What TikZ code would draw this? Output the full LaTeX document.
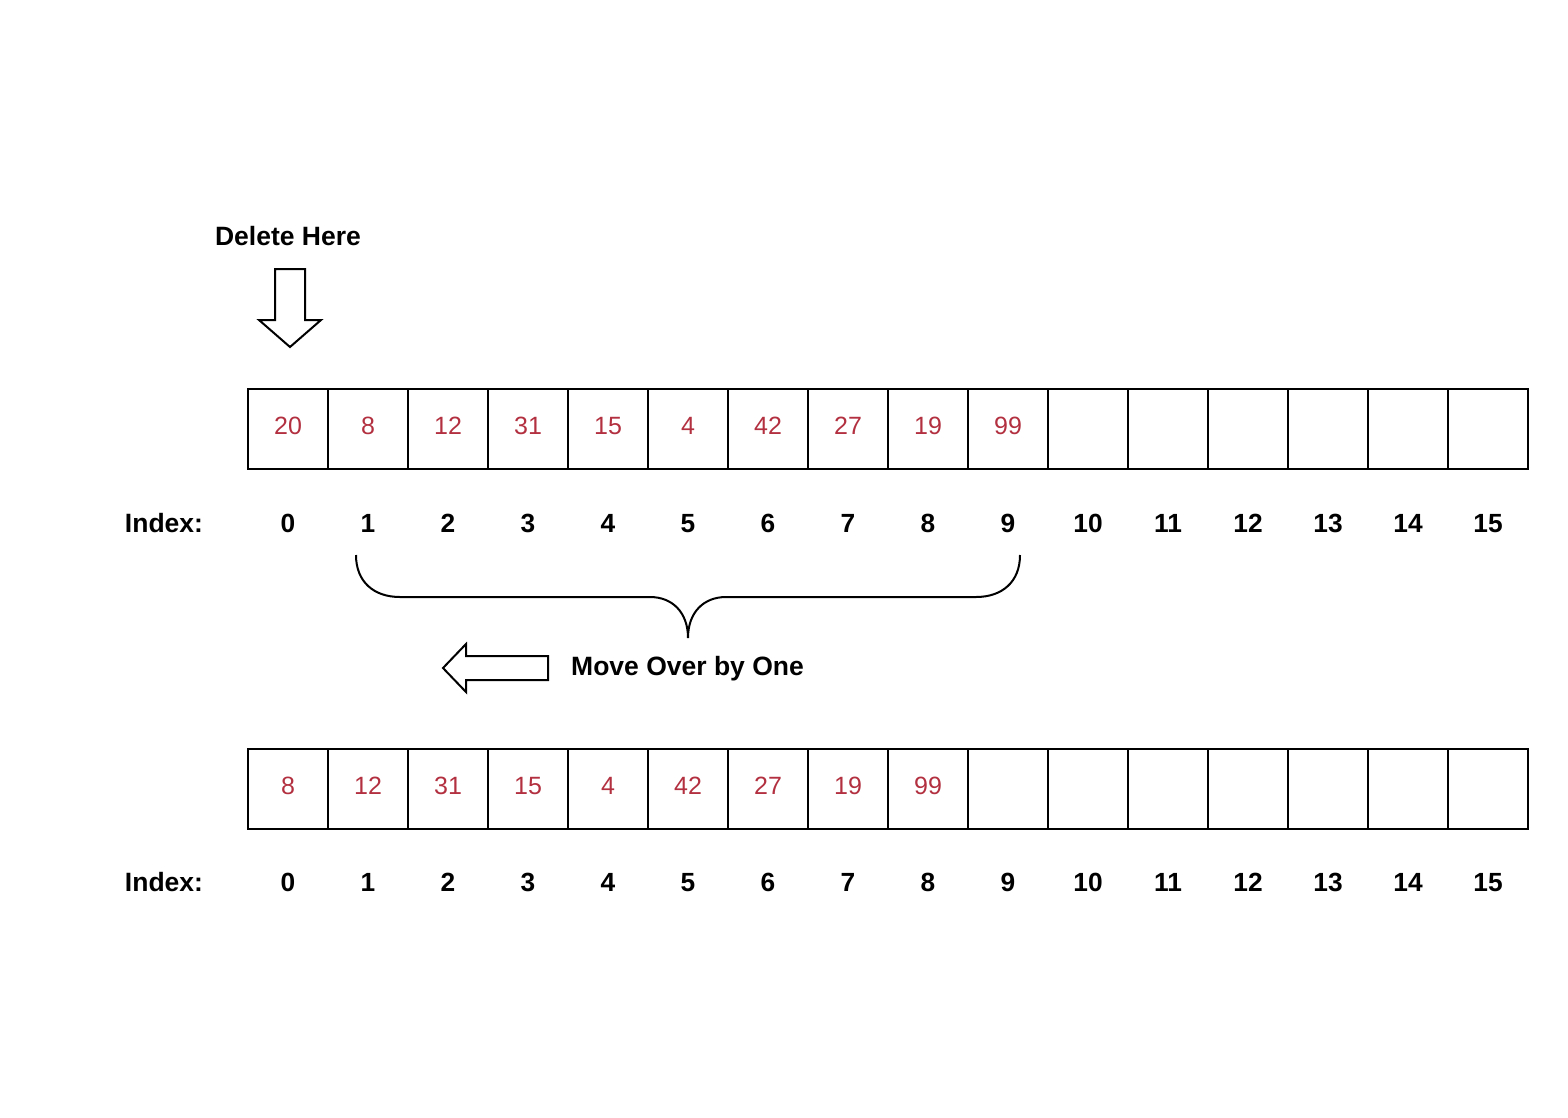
\documentclass[tikz,border=0pt]{standalone}
\usepackage{fontspec}
\setmainfont{Liberation Sans}
\definecolor{valred}{RGB}{178,48,64}
\tikzset{
  cell/.style={draw=black, line width=2pt, minimum width=80pt, minimum height=80pt, inner sep=0pt, anchor=center},
  val/.style={text=valred, font=\fontsize{25}{30}\selectfont, inner sep=0pt, text height=17.9pt, text depth=0pt},
  idx/.style={font=\bfseries\fontsize{26.3}{30}\selectfont, inner sep=0pt, text height=18.8pt, text depth=0pt},
  lbl/.style={font=\bfseries\fontsize{26.5}{30}\selectfont, inner sep=0pt, text height=19pt, text depth=0pt},
  outline/.style={draw=black, line width=2pt, line join=miter, fill=white}
}
\begin{document}
\begin{tikzpicture}[x=1pt,y=-1pt]
\useasboundingbox (0,0) rectangle (1568,1117);
% top row
\foreach \v [count=\i from 0] in {20,8,12,31,15,4,42,27,19,99,,,,,,} {
  \node[cell] (t\i) at ({288+80*\i},429) {};
  \node[val] (tv\i) at ({288+80*\i},426) {\v};
}
\foreach \v [count=\i from 0] in {8,12,31,15,4,42,27,19,99,,,,,,,} {
  \node[cell] (b\i) at ({288+80*\i},789) {};
  \node[val] (bv\i) at ({288+80*\i},786) {\v};
}
\foreach \i in {0,...,15} {
  \node[idx] (ti\i) at ({288+80*\i},523) {\i};
  \node[idx] (bi\i) at ({288+80*\i},882) {\i};
}
\node[lbl] (tindex) at (164,523) {Index:};
\node[lbl] (bindex) at (164,882) {Index:};
\node[lbl] (delete) at (288,236) {Delete Here};
\node[lbl, anchor=west] (move) at (571,666) {Move Over by One};
% down arrow
\draw[outline] (275,269) -- (305,269) -- (305,320) -- (321,320) -- (290,347) -- (259,320) -- (275,320) -- cycle;
% left arrow
\draw[outline] (548,656) -- (466,656) -- (466,644) -- (443,668) -- (466,692) -- (466,680) -- (548,680) -- cycle;
% brace
\coordinate (bl) at (356,555);
\coordinate (bt) at (688,638);
\coordinate (br) at (1020,555);
\draw[line width=2pt] (bl) .. controls (356,582) and (374,597) .. (400,597) -- (650,597)
  .. controls (672,597) and (688,612) .. (bt)
  .. controls (688,612) and (704,597) .. (726,597) -- (976,597)
  .. controls (1002,597) and (1020,582) .. (br);
\end{tikzpicture}
\end{document}
